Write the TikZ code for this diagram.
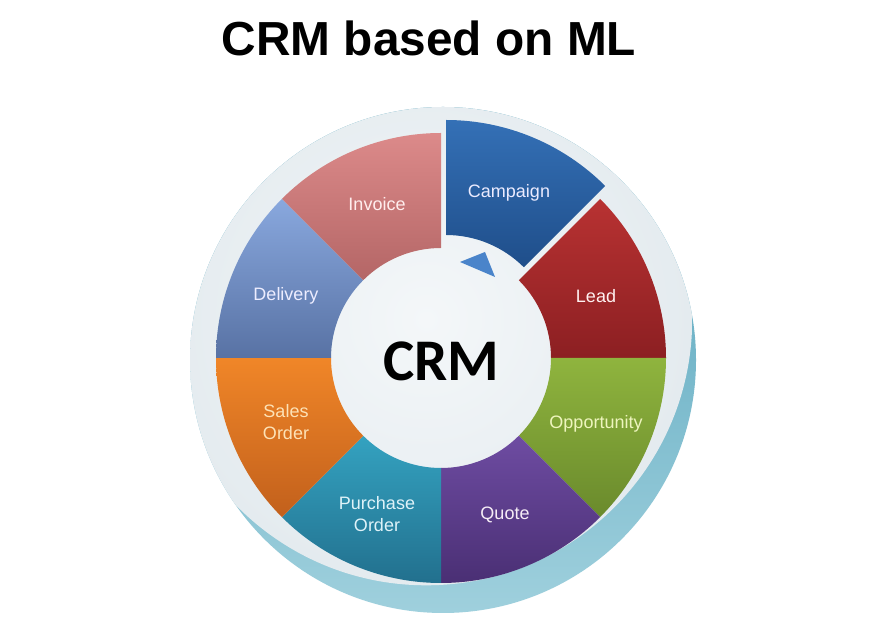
\documentclass[tikz,border=0pt]{standalone}
\usepackage{fontspec}
\setmainfont{Liberation Sans}
\newfontfamily\crmfont{Carlito}
\usetikzlibrary{calc}
\definecolor{campT}{HTML}{3470B6}
\definecolor{campB}{HTML}{1F4E8A}
\definecolor{leadT}{HTML}{B83232}
\definecolor{leadB}{HTML}{8C1F22}
\definecolor{oppT}{HTML}{8FB43E}
\definecolor{oppB}{HTML}{6A8A2C}
\definecolor{quoT}{HTML}{6E4CA2}
\definecolor{quoB}{HTML}{4A2F74}
\definecolor{purT}{HTML}{34A2C0}
\definecolor{purB}{HTML}{22708E}
\definecolor{salT}{HTML}{F08628}
\definecolor{salB}{HTML}{C2601C}
\definecolor{delT}{HTML}{89A8DE}
\definecolor{delB}{HTML}{5872A4}
\definecolor{invT}{HTML}{DC8A8A}
\definecolor{invB}{HTML}{B46666}
\definecolor{tealA}{HTML}{4E9FB8}
\definecolor{tealB}{HTML}{9FD0DD}
\definecolor{paleIn}{HTML}{F4F7F9}
\definecolor{paleOut}{HTML}{E4EBEF}
\definecolor{triC}{HTML}{4A84CA}
\newcommand\crmseg[5]{%
  \shade[top color=#4,bottom color=#5]
    ($(#1)+(#2:225pt)$) arc[start angle=#2,end angle=#3,radius=225pt]
    -- ($(#1)+(#3:110pt)$) arc[start angle=#3,end angle=#2,radius=110pt] -- cycle;}
\begin{document}
\begin{tikzpicture}[x=1pt,y=1pt,
  lbl/.style={font=\fontsize{18}{22}\selectfont, align=center, inner sep=0pt}]
\useasboundingbox (0,0) rectangle (888,631);
\fill[white] (0,0) rectangle (888,631);
\coordinate (C) at (441,273);
\coordinate (C2) at (446,286);
\coordinate (D) at (443,271);
\coordinate (P) at (426.2,311.7);
% outer disk with teal swoosh
\begin{scope}
  \clip (D) circle[radius=253pt];
  \shade[top color=tealA, bottom color=tealB] (D) circle[radius=253pt];
  \shade[inner color=paleIn, outer color=paleOut] (P) circle[radius=266pt];
\end{scope}
% segments
\crmseg{C}{45}{0}{leadT}{leadB}
\crmseg{C}{0}{-45}{oppT}{oppB}
\crmseg{C}{-45}{-90}{quoT}{quoB}
\crmseg{C}{-90}{-135}{purT}{purB}
\crmseg{C}{-135}{-180}{salT}{salB}
\crmseg{C}{180}{135}{delT}{delB}
\crmseg{C}{135}{90}{invT}{invB}
\crmseg{C2}{90}{45}{campT}{campB}
% arrow head
\fill[triC] (460,369) -- (485,379) -- (495,354) -- cycle;
% labels
\node[lbl, text=white!92!blue] (campaign) at (509,438) {Campaign};
\node[lbl, text=white!93!red] (invoice) at (377,427) {Invoice};
\node[lbl, text=white!93!blue] (delivery) at (286,335) {Delivery};
\node[lbl, text=white!94!red] (lead) at (596,335) {Lead};
\node[lbl, text={rgb,255:red,238;green,245;blue,190}] (opportunity) at (596,207) {Opportunity};
\node[lbl, text=white!93!violet] (quote) at (505,116) {Quote};
\node[lbl, text={rgb,255:red,222;green,242;blue,248}] (purchase) at (377,117) {Purchase\\Order};
\node[lbl, text={rgb,255:red,253;green,226;blue,182}] (sales) at (286,209) {Sales\\Order};
\node[inner sep=0pt] (crm) at (441.5,270) {\crmfont\bfseries\fontsize{59}{61}\selectfont CRM};
\node[inner sep=0pt] (title) at (429,593) {\fontsize{47.8}{50}\selectfont\bfseries CRM based on ML};
\end{tikzpicture}
\end{document}
